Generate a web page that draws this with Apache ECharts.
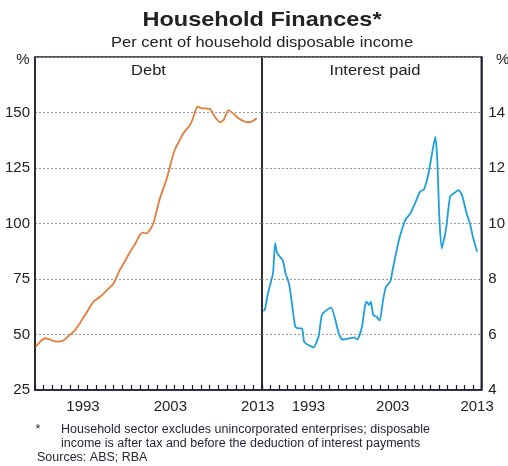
<!DOCTYPE html>
<html>
<head>
<meta charset="utf-8">
<script src="https://cdn.jsdelivr.net/npm/echarts@6/dist/echarts.min.js"></script>
<style>
  html, body { margin: 0; padding: 0; background: #fff; }
  #chart { width: 508px; height: 466px; }
</style>
</head>
<body>
<div id="chart"></div>
<script>
// year categories for the tick marks / labels
const years = ['1988','1989','1990','1991','1992','1993','1994','1995','1996','1997','1998','1999','2000',
  '2001','2002','2003','2004','2005','2006','2007','2008','2009','2010','2011','2012','2013']
const yearLabels = ['1993', '2003', '2013']

// Debt, per cent of household disposable income
const debtDates = [1988.1, 1988.6, 1989.15, 1989.8, 1990.5, 1991.2, 1992.0, 1992.6, 1993.15, 1993.9, 1994.7,
  1995.45, 1996.2, 1997.0, 1997.7, 1998.3, 1998.9, 1999.5, 2000.0, 2000.4, 2000.7, 2001.0, 2001.55, 2002.3,
  2003.1, 2003.65, 2004.0, 2004.5, 2005.0, 2005.75, 2006.1, 2006.6, 2007.1, 2007.6, 2008.05, 2008.6,
  2009.2, 2009.6, 2010.15, 2010.7, 2011.3, 2012.05, 2012.6, 2013.0, 2013.4]
const debtValues = [44.5, 46.8, 48.3, 47.6, 46.8, 47.2, 49.8, 52.0, 55.2, 59.8, 64.8,
  67.0, 69.8, 73.0, 79.0, 83.0, 87.3, 91.0, 94.8, 95.9, 95.5, 96.3, 100.0, 111.3,
  120.3, 128.6, 133.1, 137.0, 140.6, 144.4, 147.4, 152.6, 151.9, 151.8, 151.6, 148.1,
  145.6, 146.6, 151.1, 149.6, 147.4, 145.9, 145.6, 146.3, 147.4]

// Interest paid, per cent of household disposable income
const interestDates = [1988.15, 1988.35, 1988.7, 1989.3, 1989.55, 1989.8, 1990.45, 1990.8, 1991.2, 1991.6,
  1991.95, 1992.35, 1992.75, 1993.0, 1993.5, 1994.1, 1994.7, 1995.1, 1995.65, 1996.2, 1996.6, 1997.1,
  1997.55, 1998.3, 1998.9, 1999.3, 1999.85, 2000.2, 2000.4, 2000.7, 2000.9, 2001.2, 2001.6, 2001.95,
  2002.35, 2002.7, 2003.2, 2003.5, 2004.05, 2004.4, 2005.0, 2005.6, 2006.15, 2006.75, 2007.2, 2007.7,
  2008.1, 2008.55, 2008.8, 2009.0, 2009.3, 2009.8, 2010.3, 2010.75, 2011.3, 2011.7, 2012.25, 2012.65,
  2013.0, 2013.5]
const interestValues = [6.85, 6.9, 7.48, 8.2, 9.29, 8.93, 8.68, 8.2, 7.84, 7.0,
  6.28, 6.22, 6.22, 5.74, 5.62, 5.54, 5.92, 6.7, 6.88, 6.97, 6.64, 6.04,
  5.82, 5.86, 5.9, 5.82, 6.28, 7.0, 7.18, 7.06, 7.18, 6.7, 6.64, 6.5,
  7.24, 7.72, 7.9, 8.35, 9.16, 9.59, 10.13, 10.37, 10.73, 11.15, 11.23, 11.75,
  12.41, 13.13, 12.17, 10.37, 9.1, 9.77, 10.97, 11.09, 11.2, 11.03, 10.37, 10.0,
  9.52, 8.98]

const debtTicks = [25, 175, 25]     // min, max, step
const interestTicks = [4, 16, 2]

const ink = '#1c1c2c'
const textColor = '#222'
const font = 'Liberation Sans, Arial, sans-serif'

function pairs(xs, ys) {
  return xs.map((x, i) => [x, ys[i]])
}

function yearAxis(gridIndex) {
  return {
    type: 'category',
    gridIndex: gridIndex,
    data: years,
    boundaryGap: true,
    axisLine: { show: true, lineStyle: { color: ink, width: 1.5 } },
    axisTick: { show: true, inside: true, length: 5, interval: 0, lineStyle: { color: ink, width: 1.2 } },
    axisLabel: {
      interval: 0,
      margin: 9,
      color: textColor,
      fontSize: 15,
      fontFamily: font,
      formatter: function (v) { return yearLabels.indexOf(v) >= 0 ? v : '' }
    },
    splitLine: { show: false }
  }
}

function dateAxis(gridIndex) {
  return { type: 'value', gridIndex: gridIndex, min: 1988, max: 2014, show: false }
}

function valueAxis(gridIndex, ticks, position) {
  return {
    type: 'value',
    gridIndex: gridIndex,
    position: position,
    min: ticks[0],
    max: ticks[1],
    interval: ticks[2],
    axisLine: { show: true, lineStyle: { color: ink, width: 1.5 } },
    axisTick: { show: false },
    axisLabel: {
      color: textColor,
      fontSize: 15,
      margin: position === 'left' ? 5 : 7,
      fontFamily: font,
      formatter: function (v) { return v === ticks[1] ? '' : String(v) }
    },
    splitLine: { show: true, lineStyle: { color: '#9a9a9a', type: [2, 2], width: 1 } }
  }
}

function label(text, x, y, size, opts) {
  opts = opts || {}
  return {
    type: 'text',
    x: x,
    y: y,
    scaleX: opts.sx || 1,
    style: {
      text: text,
      fill: opts.color || textColor,
      font: (opts.bold ? 'bold ' : '') + size + 'px ' + font,
      align: opts.align || 'center',
      verticalAlign: 'middle'
    }
  }
}

const chart = echarts.init(document.getElementById('chart'))
chart.setOption({
  backgroundColor: '#fff',
  animation: false,
  textStyle: { fontFamily: font },
  grid: [
    { left: 35, top: 57, width: 227, bottom: 76, show: true, borderColor: ink, borderWidth: 1.5 },
    { left: 262, top: 57, width: 226, bottom: 76, show: true, borderColor: ink, borderWidth: 1.5 }
  ],
  xAxis: [yearAxis(0), yearAxis(1), dateAxis(0), dateAxis(1)],
  yAxis: [valueAxis(0, debtTicks, 'left'), valueAxis(1, interestTicks, 'right')],
  graphic: [
    label('Household Finances*', 262, 20, 21, { bold: true, sx: 1.12 }),
    label('Per cent of household disposable income', 262, 43, 14, { sx: 1.18 }),
    label('Debt', 148.5, 71, 14, { sx: 1.18 }),
    label('Interest paid', 375, 71, 14, { sx: 1.18 }),
    label('%', 23, 60, 15),
    label('%', 496, 60, 15, { align: 'left' }),
    label('*', 38, 430, 12.5, { color: '#2b2236' }),
    label('Household sector excludes unincorporated enterprises; disposable', 61, 430, 12.5, { align: 'left', color: '#2b2236' }),
    label('income is after tax and before the deduction of interest payments', 61, 444, 12.5, { align: 'left', color: '#2b2236' }),
    label('Sources: ABS; RBA', 37, 458, 12.5, { align: 'left', color: '#2b2236' })
  ],
  series: [
    {
      name: 'Debt',
      type: 'line',
      xAxisIndex: 2,
      yAxisIndex: 0,
      data: pairs(debtDates, debtValues),
      showSymbol: false,
      smooth: 0.2,
      lineStyle: { color: '#e37d3c', width: 1.8 }
    },
    {
      name: 'Interest paid',
      type: 'line',
      xAxisIndex: 3,
      yAxisIndex: 1,
      data: pairs(interestDates, interestValues),
      showSymbol: false,
      smooth: 0.2,
      lineStyle: { color: '#1f9fda', width: 1.8 }
    }
  ]
})
</script>
</body>
</html>
